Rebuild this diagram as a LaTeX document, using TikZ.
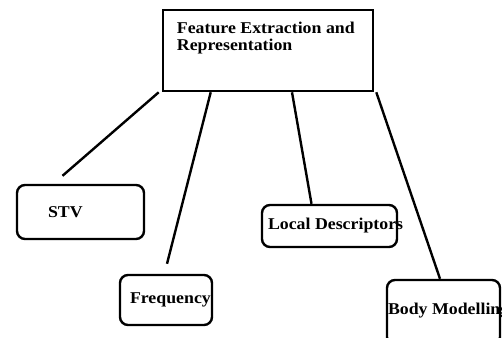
\documentclass[tikz,border=0pt]{standalone}
\usepackage{fontspec}
\setmainfont{Liberation Serif}[FakeStretch=1.08]
\usetikzlibrary{positioning,calc}

\begin{document}
\begin{tikzpicture}[x=1pt,y=1pt,line width=2.4pt,
font=\bfseries\fontsize{16.5}{17}\selectfont]

\tikzstyle{mainbox}=[rectangle, draw, line width=2.6pt, inner sep=0pt]
\tikzstyle{leafbox}=[rectangle, rounded corners=8pt, draw, line width=2.4pt, inner sep=0pt]
\tikzstyle{lbl}=[anchor=west, inner sep=0pt, text=black]

\useasboundingbox (0,0) rectangle (502,337);

%top box
\node[mainbox, minimum width=210, minimum height=81]
(fer) at (268,286.5) {};
\node[anchor=north west, inner sep=0pt, align=left]
(fertxt) at ([shift={(14,-12)}]fer.north west)
{Feature Extraction and\\Representation};

%leaf boxes
\node[leafbox, minimum width=127, minimum height=54] (stv) at (80.5,125) {};
\node[leafbox, minimum width=92, minimum height=50] (freq) at (166,37) {};
\node[leafbox, minimum width=135, minimum height=42] (local) at (329.5,111) {};
\node[leafbox, minimum width=113, minimum height=65] (body) at (443.5,24.5) {};

\node[lbl] (stvtxt) at ([xshift=31]stv.west) {STV};
\node[lbl] (freqtxt) at ([xshift=10]freq.west) {Frequency};
\node[lbl] (localtxt) at ([xshift=6]local.west) {Local Descriptors};
\node[lbl] (bodytxt) at ([shift={(1,2)}]body.west) {Body Modelling};

%free ends of the lines
\coordinate (stvend) at ([shift={(-18,8)}]stv.north);
\coordinate (freqend) at ([shift={(1,10)}]freq.north);

\draw ([xshift=-3]fer.south west) -- (stvend);
\draw ([xshift=49]fer.south west) -- (freqend);
\draw ([xshift=24]fer.south) -- ([xshift=-18]local.north);
\draw ([xshift=2]fer.south east) -- ([xshift=-3.5]body.north);

\end{tikzpicture}
\end{document}
